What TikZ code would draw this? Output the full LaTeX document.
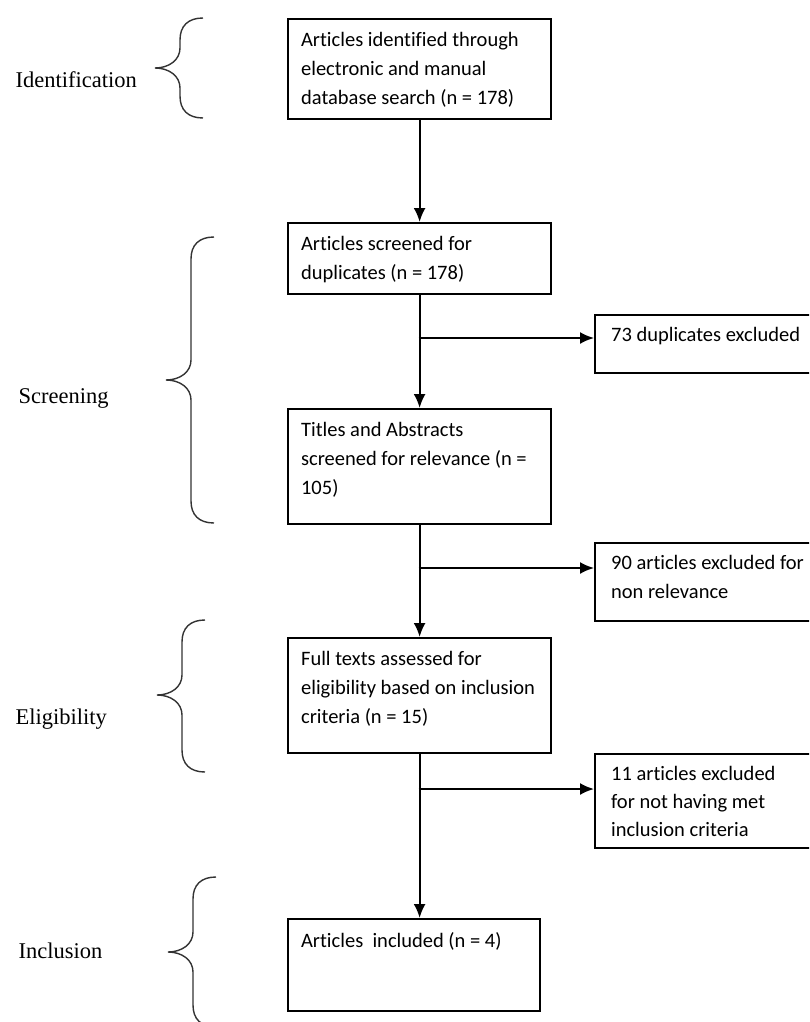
\documentclass[tikz,border=0pt]{standalone}
\usepackage{fontspec}
\setmainfont{Liberation Serif}
\newfontfamily\boxfont[Ligatures={NoCommon}]{Carlito}
\usetikzlibrary{arrows.meta}

% text block of a box: width, height, lines
\newcommand{\boxtxt}[3]{\begin{minipage}[t][#2pt][t]{#1pt}\raggedright\rule{0pt}{14pt}#3\end{minipage}}
% curly brace: tip x, top y, tip y, bottom y
\newcommand{\stagebrace}[4]{%
  \draw[brace] (#1+48,#2) .. controls (#1+33,#2) and (#1+25,#2+8) .. (#1+25,#2+22)
    -- (#1+25,#3-20) .. controls (#1+25,#3-8) and (#1+14,#3) .. (#1,#3)
    .. controls (#1+14,#3) and (#1+25,#3+8) .. (#1+25,#3+20)
    -- (#1+25,#4-22) .. controls (#1+25,#4-8) and (#1+33,#4) .. (#1+48,#4);}

\tikzset{
  flowbox/.style={draw, line width=2.2pt, anchor=north west, inner xsep=13pt, inner ysep=13pt,
    font=\boxfont\fontsize{20.5}{29}\selectfont},
  sidebox/.style={flowbox, inner xsep=16pt, inner ysep=12pt},
  arr/.style={line width=2pt, -{Latex[length=14pt,width=12pt]}},
  stage/.style={anchor=base west, font=\fontsize{22.5}{26}\selectfont},
  brace/.style={line width=1.4pt, black!80}
}

\begin{document}
\begin{tikzpicture}[x=1pt,y=-1pt]
\useasboundingbox (0,0) rectangle (809,1022);
\clip (0,0) rectangle (809,1022);

% stages
\node[stage] (identlbl) at (12,88) {Identification};
\node[stage] (screenlbl) at (15,403) {Screening};
\node[stage] (eliglbl) at (12,724) {Eligibility};
\node[stage] (incllbl) at (15,958) {Inclusion};
\stagebrace{155}{18}{68}{118}
\stagebrace{166}{237}{380}{523}
\stagebrace{157}{620}{695}{772}
\stagebrace{168}{877}{952}{1027}

% main column
\node[flowbox] (ident) at (287,18) {\boxtxt{237}{74}{Articles identified through\\electronic and manual\\database search (n = 178)}};
\node[flowbox] (dup) at (287,222) {\boxtxt{237}{45}{Articles screened for\\duplicates (n = 178)}};
\node[flowbox] (titles) at (287,408) {\boxtxt{237}{89}{Titles and Abstracts\\screened for relevance (n =\\105)}};
\node[flowbox] (full) at (287,637) {\boxtxt{237}{89}{Full texts assessed for\\eligibility based on inclusion\\criteria (n = 15)}};
\node[flowbox] (incl) at (287,918) {\boxtxt{226}{66}{Articles~ included (n = 4)}};

% excluded
\node[sidebox] (dupout) at (594,314) {\boxtxt{208}{34}{73 duplicates excluded}};
\node[sidebox] (relout) at (594,542) {\boxtxt{208}{54}{90 articles excluded for\\non relevance}};
\node[sidebox] (critout) at (594,753) {\boxtxt{208}{70}{\fontsize{20.5}{28}\selectfont 11 articles excluded\\for not having met\\inclusion criteria}};

\coordinate (j1) at (418.5,338);
\coordinate (j2) at (418.5,568);
\coordinate (j3) at (418.5,789);

\draw[arr] (ident) -- (dup);
\draw[arr] (dup) -- (titles);
\draw[arr] (titles) -- (full);
\draw[arr] (full.south) -- (full.south |- incl.north);
\draw[arr] (j1) -- (j1 -| dupout.west);
\draw[arr] (j2) -- (j2 -| relout.west);
\draw[arr] (j3) -- (j3 -| critout.west);
\end{tikzpicture}
\end{document}
